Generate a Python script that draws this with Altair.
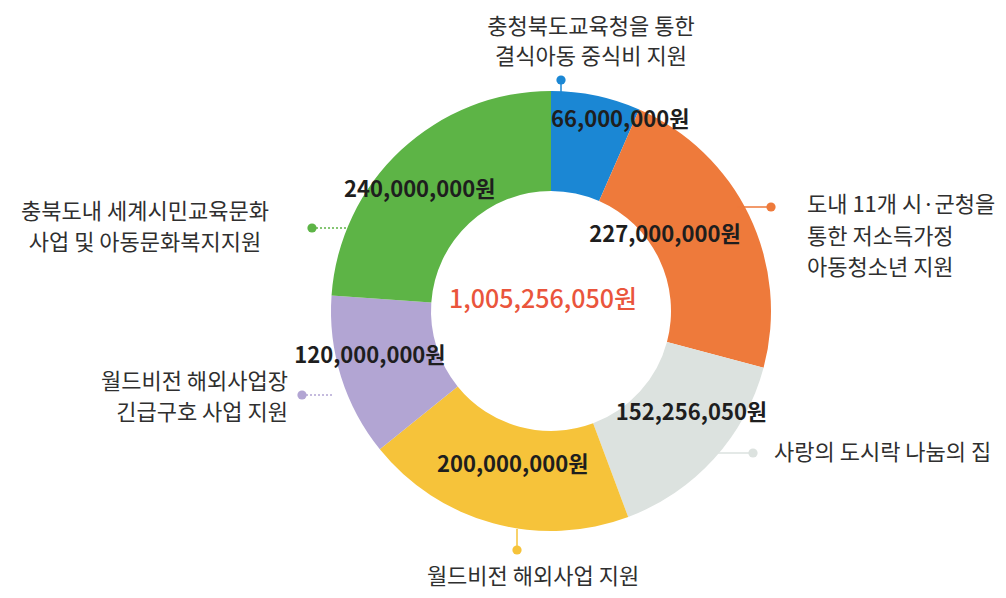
import altair as alt
import pandas as pd

# ---- data ----
categories = [
    "충청북도교육청을 통한 결식아동 중식비 지원",
    "도내 11개 시·군청을 통한 저소득가정 아동청소년 지원",
    "사랑의 도시락 나눔의 집",
    "월드비전 해외사업 지원",
    "월드비전 해외사업장 긴급구호 사업 지원",
    "충북도내 세계시민교육문화 사업 및 아동문화복지지원",
]
amounts = [66000000, 227000000, 152256050, 200000000, 120000000, 240000000]
label_lines = [
    ["충청북도교육청을 통한", "결식아동 중식비 지원"],
    ["도내 11개 시·군청을", "통한 저소득가정", "아동청소년 지원"],
    ["사랑의 도시락 나눔의 집"],
    ["월드비전 해외사업 지원"],
    ["월드비전 해외사업장", "긴급구호 사업 지원"],
    ["충북도내 세계시민교육문화", "사업 및 아동문화복지지원"],
]
colors = ["#1b87d4", "#ee7a3b", "#dce2df", "#f6c33a", "#b2a5d3", "#5db446"]
total = sum(amounts)
total_text = f"{total:,}원"

df = pd.DataFrame({
    "idx": list(range(len(categories))),
    "category": categories,
    "value": amounts,
    "label": [f"{v:,}원" for v in amounts],
})

FONT = "Noto Sans CJK KR"
CX, CY = 543, 303
R_IN, R_OUT = 120, 220

color_scale = alt.Scale(domain=categories, range=colors)
theta_scale = alt.Scale(domain=[0, total])

arcs = alt.Chart(df).mark_arc(
    innerRadius=R_IN, outerRadius=R_OUT, x=CX, y=CY, stroke=None
).encode(
    theta=alt.Theta("value:Q", stack=True, scale=theta_scale),
    color=alt.Color("category:N", scale=color_scale, legend=None),
    order=alt.Order("idx:Q"),
)

# value labels: polar position from slice midpoint, with small nudges
nudges = [(34, -23), (-41, -1), (13, -14), (7, -12), (-17, -7), (-14, 5)]
mid_base = alt.Chart(df).transform_window(
    cum="sum(value)", sort=[alt.SortField("idx")]
).transform_calculate(mid="datum.cum - datum.value / 2")

value_layers = []
for i, (ddx, ddy) in enumerate(nudges):
    value_layers.append(
        mid_base.transform_filter(alt.datum.idx == i).mark_text(
            radius=172, x=CX, y=CY, dx=ddx, dy=ddy,
            font=FONT, fontSize=22, fontWeight="bold", color="#1e1e1e",
            align="center", baseline="middle",
        ).encode(
            theta=alt.Theta("mid:Q", scale=theta_scale, stack=None),
            text="label:N",
        )
    )

center = alt.Chart(alt.Data(values=[{}])).mark_text(
    font=FONT, fontSize=25, fontWeight=500, color="#ea553c", align="center", baseline="middle"
).encode(x=alt.value(535), y=alt.value(292), text=alt.value(total_text))

# ---- annotation layout (pixel positions of leader lines / callouts) ----
layout = [
    dict(dot=(553, 72), line=(553, 72, 553, 88), tx=583, ty=[19, 49], align="center", dash=[1, 0]),
    dict(dot=(763, 199), line=(729, 199, 763, 199), tx=799, ty=[197, 229, 260], align="left", dash=[1, 0]),
    dict(dot=(745, 445), line=(699, 445, 745, 445), tx=766, ty=[445], align="left", dash=[1, 0]),
    dict(dot=(509, 542), line=(509, 521, 509, 542), tx=525, ty=[569], align="center", dash=[1, 0]),
    dict(dot=(294, 387), line=(294, 387, 324, 387), tx=280, ty=[374, 405], align="right", dash=[2, 2]),
    dict(dot=(304, 220), line=(304, 220, 340, 220), tx=137, ty=[204, 235], align="center", dash=[2, 2]),
]

one = alt.Data(values=[{}])
ann_layers = []
for i, L in enumerate(layout):
    c = colors[i]
    x1, y1, x2, y2 = L["line"]
    ann_layers.append(
        alt.Chart(one).mark_rule(color=c, strokeWidth=1.5, strokeDash=L["dash"]).encode(
            x=alt.value(x1), y=alt.value(y1), x2=alt.value(x2), y2=alt.value(y2)
        )
    )
    ann_layers.append(
        alt.Chart(one).mark_circle(color=c, opacity=1, size=85).encode(
            x=alt.value(L["dot"][0]), y=alt.value(L["dot"][1])
        )
    )
    for line_text, yy in zip(label_lines[i], L["ty"]):
        ann_layers.append(
            alt.Chart(one).mark_text(
                font=FONT, fontSize=22, color="#2f2f2f", align=L["align"], baseline="middle"
            ).encode(x=alt.value(L["tx"]), y=alt.value(yy), text=alt.value(line_text))
        )

chart = alt.layer(arcs, *value_layers, center, *ann_layers).properties(
    width=990, height=582, padding=0,
    autosize=alt.AutoSizeParams(type="fit", contains="padding"),
    background="white",
).configure_view(stroke=None)

chart.save("out.html", embed_options={"renderer": "svg", "actions": False})
